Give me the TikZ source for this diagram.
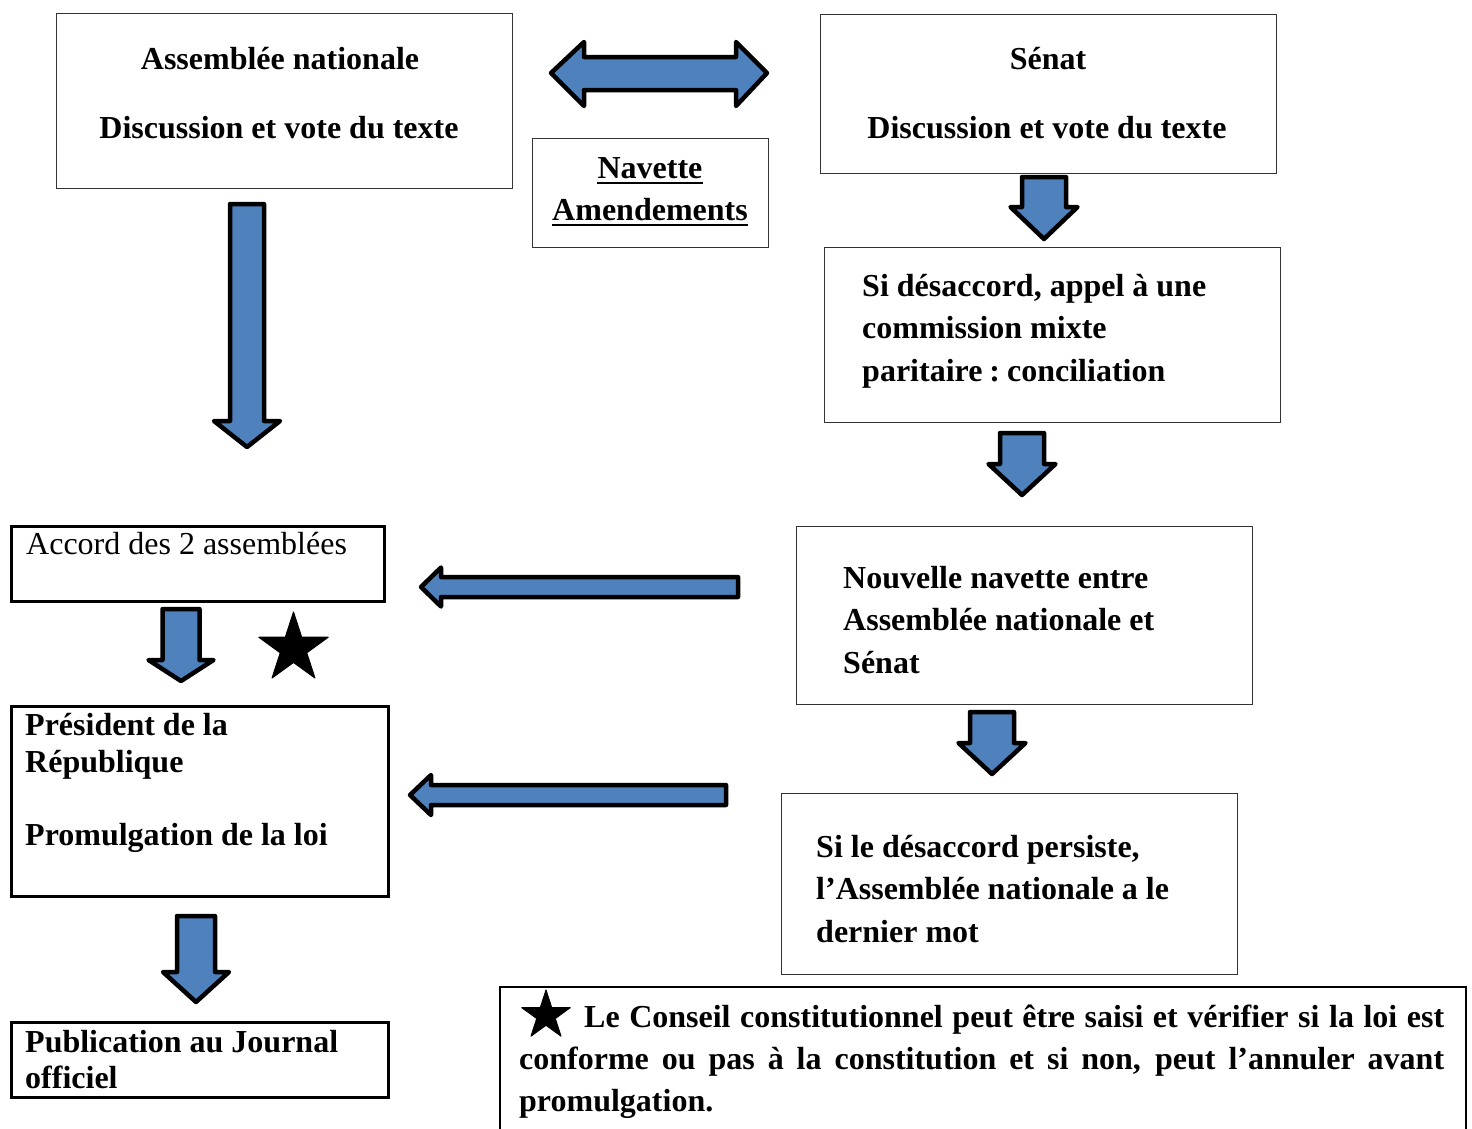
\documentclass[tikz,border=0pt]{standalone}
\usepackage{fontspec}
\setmainfont{Liberation Serif}
\usetikzlibrary{shapes.geometric}
\definecolor{arrowblue}{HTML}{4F81BD}
\newcommand\blkdown[6]{%
  \draw[blk] ({#1-#3},#2) -- ({#1+#3},#2) -- ({#1+#3},#5) -- ({#1+#4},#5) -- (#1,#6)
    -- ({#1-#4},#5) -- ({#1-#3},#5) -- cycle;}
\newcommand\blkleft[6]{%
  \draw[blk] (#1,#2) -- (#5,{#2-#4}) -- (#5,{#2-#3}) -- (#6,{#2-#3}) -- (#6,{#2+#3})
    -- (#5,{#2+#3}) -- (#5,{#2+#4}) -- cycle;}
\begin{document}
\begin{tikzpicture}[x=1pt,y=-1pt,
  thinbox/.style={draw=black!80, line width=1.3pt, inner sep=0pt, anchor=north west},
  thickbox/.style={draw=black, line width=2.6pt, inner sep=0pt, anchor=north west},
  blk/.style={fill=arrowblue, draw=black, line width=4.5pt, line join=round},
  txt/.style={inner sep=0pt, font=\fontsize{32}{38}\selectfont\bfseries},
  txtr/.style={inner sep=0pt, font=\fontsize{32}{38}\selectfont},
  starmark/.style={star, star points=5, star point ratio=2.618, fill=black, draw=black,
    line width=1pt, line join=round, inner sep=0pt}]
\useasboundingbox (0,0) rectangle (1472,1128);

% boxes
\node[thinbox, minimum width=456pt, minimum height=175pt] (an) at (56,13) {};
\node[thinbox, minimum width=236pt, minimum height=109pt] (nav) at (532,138) {};
\node[thinbox, minimum width=456pt, minimum height=159pt] (sen) at (820,14) {};
\node[thinbox, minimum width=456pt, minimum height=175pt] (cmp) at (824,247) {};
\node[thinbox, minimum width=456pt, minimum height=178pt] (nouv) at (796,526) {};
\node[thinbox, minimum width=456pt, minimum height=181pt] (pers) at (781,793) {};
\node[thickbox, minimum width=373pt, minimum height=75pt] (acc) at (10,525) {};
\node[thickbox, minimum width=377pt, minimum height=190pt] (pres) at (10,705) {};
\node[thickbox, minimum width=377pt, minimum height=75pt] (pub) at (10,1021) {};
\node[draw=black, line width=2pt, inner sep=0pt, anchor=north west,
      minimum width=966pt, minimum height=170pt] (cc) at (499,986) {};

% texts
\node[txt, anchor=base] (an1) at (280,69) {Assemblée nationale};
\node[txt, anchor=base] (an2) at (279,138) {Discussion et vote du texte};
\node[txt, anchor=base] (sen1) at (1048,69) {Sénat};
\node[txt, anchor=base] (sen2) at (1047,138) {Discussion et vote du texte};
\node[txt, anchor=base] (nav1) at (650,178) {Navette};
\node[txt, anchor=base] (nav2) at (650,220) {Amendements};
\draw[line width=2.4pt] ([yshift=-5pt]nav1.base west) -- ([yshift=-5pt]nav1.base east);
\draw[line width=2.4pt] ([yshift=-5pt]nav2.base west) -- ([yshift=-5pt]nav2.base east);

\node[txt, anchor=base west] (cmp1) at (862,296) {Si désaccord, appel à une};
\node[txt, anchor=base west] (cmp2) at (862,338.5) {commission mixte};
\node[txt, anchor=base west] (cmp3) at (862,381) {paritaire\hspace{7pt}:\hspace{7pt}conciliation};

\node[txt, anchor=base west] (nouv1) at (843,588) {Nouvelle navette entre};
\node[txt, anchor=base west] (nouv2) at (843,630.5) {Assemblée nationale et};
\node[txt, anchor=base west] (nouv3) at (843,673) {Sénat};

\node[txt, anchor=base west] (pers1) at (816,857) {Si le désaccord persiste,};
\node[txt, anchor=base west] (pers2) at (816,899.5) {l’Assemblée nationale a le};
\node[txt, anchor=base west] (pers3) at (816,942) {dernier mot};

\node[txtr, anchor=base west] (acc1) at (26,554) {Accord des 2 assemblées};

\node[txt, anchor=base west] (pres1) at (25,735) {Président de la};
\node[txt, anchor=base west] (pres2) at (25,772) {République};
\node[txt, anchor=base west] (pres3) at (25,845) {Promulgation de la loi};

\node[txt, anchor=base west] (pub1) at (25,1052) {Publication au Journal};
\node[txt, anchor=base west] (pub2) at (25,1088) {officiel};

\node[txt, anchor=base west] (cc1) at (584,1027)
  {\makebox[860pt][s]{Le Conseil constitutionnel peut être saisi et vérifier si la loi est}};
\node[txt, anchor=base west] (cc2) at (519,1069)
  {\makebox[925pt][s]{conforme ou pas à la constitution et si non, peut l’annuler avant}};
\node[txt, anchor=base west] (cc3) at (519,1111) {promulgation.};

% stars
\node[starmark, minimum size=73pt] (star1) at (293.5,648.5) {};
\node[starmark, minimum size=51pt] (star2) at (546,1015.5) {};

% double arrow (navette)
\draw[blk] (551,73) -- (584,42) -- (584,57) -- (736,57) -- (736,42) -- (767,73)
  -- (736,106) -- (736,90) -- (584,90) -- (584,106) -- cycle;

% down arrows
\blkdown{247}{204}{17}{33}{421}{447}
\blkdown{1044}{177}{22}{33.5}{207}{239}
\blkdown{1022}{433}{22}{33.5}{464}{495}
\blkdown{992}{712}{22}{33.5}{743}{774}
\blkdown{181}{609}{18.5}{32.5}{660}{681}
\blkdown{196}{916}{19}{33}{972}{1002}

% left arrows
\blkleft{421}{587}{10}{19.5}{441}{738}
\blkleft{410}{795}{10}{20}{431}{726}
\end{tikzpicture}
\end{document}
